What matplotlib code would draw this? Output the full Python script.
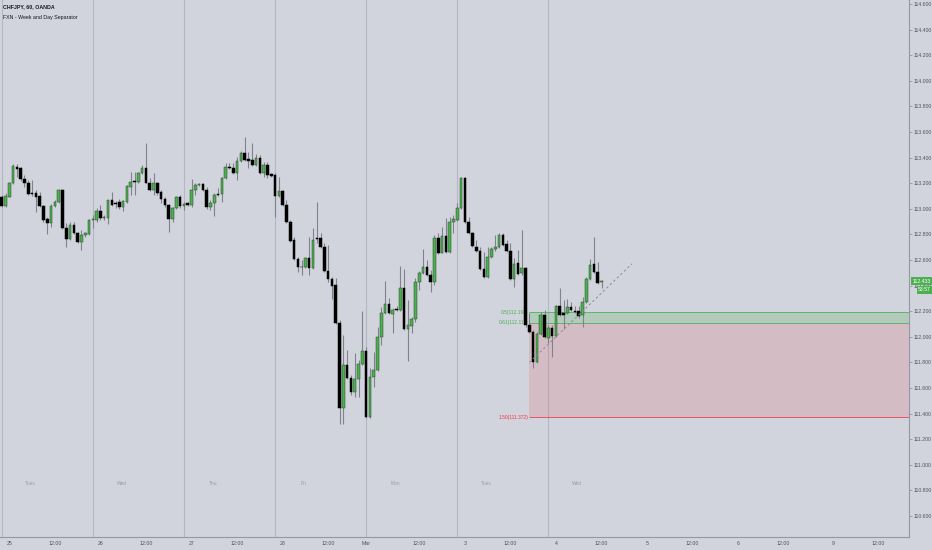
import matplotlib
matplotlib.use("Agg")
import matplotlib.pyplot as plt
import matplotlib.transforms as mtransforms
import numpy as np
import pandas as pd

plt.rcParams["font.family"] = ["Liberation Sans", "DejaVu Sans"]

SYMBOL = "CHFJPY, 60, OANDA"
INDICATOR = "FXN - Week and Day Separator"
FIRST_BAR = "2020-02-24 22:00"

# hourly candles
opens = [
    113.094, 113.024, 113.094, 113.198, 113.329, 113.316, 113.232, 113.204, 113.120, 113.120,
    113.100, 113.024, 112.920, 112.891, 113.021, 113.050, 113.146, 112.847, 112.766, 112.873,
    112.808, 112.743, 112.792, 112.803, 112.909, 112.912, 112.982, 112.925, 112.925, 113.066,
    113.047, 113.050, 113.016, 113.050, 113.172, 113.214, 113.211, 113.277, 113.316, 113.204,
    113.146, 113.204, 113.128, 113.073, 113.026, 112.917, 113.003, 113.089, 113.021, 113.042,
    113.032, 113.146, 113.185, 113.193, 113.146, 113.011, 113.042, 113.115, 113.112, 113.243,
    113.329, 113.321, 113.276, 113.373, 113.433, 113.386, 113.381, 113.342, 113.394, 113.276,
    113.342, 113.269, 113.263, 113.102, 113.141, 113.029, 112.899, 112.756, 112.605, 112.547,
    112.542, 112.612, 112.534, 112.769, 112.769, 112.704, 112.514, 112.449, 112.404, 112.110,
    111.441, 111.779, 111.680, 111.571, 111.670, 111.787, 111.889, 111.371, 111.683, 111.740,
    112.001, 112.188, 112.256, 112.178, 112.217, 112.209, 112.378, 112.061, 112.087, 112.136,
    112.431, 112.501, 112.543, 112.483, 112.431, 112.769, 112.657, 112.787, 112.665, 112.894,
    112.912, 113.004, 113.238, 112.899, 112.808, 112.704, 112.673, 112.527, 112.469, 112.620,
    112.683, 112.699, 112.795, 112.725, 112.673, 112.449, 112.574, 112.495, 112.535, 112.092,
    112.040, 111.805, 112.021, 112.170, 111.988, 112.066, 112.006, 112.240, 112.188, 112.183,
    112.235, 112.204, 112.204, 112.170, 112.274, 112.449, 112.568, 112.509, 112.425,
]
highs = [
    113.107, 113.120, 113.211, 113.349, 113.349, 113.323, 113.264, 113.225, 113.225, 113.146,
    113.133, 113.029, 112.938, 113.034, 113.068, 113.152, 113.152, 112.886, 112.899, 112.899,
    112.821, 112.834, 112.821, 112.917, 112.951, 113.003, 113.029, 112.951, 113.068, 113.133,
    113.060, 113.073, 113.068, 113.185, 113.290, 113.290, 113.290, 113.342, 113.511, 113.238,
    113.282, 113.211, 113.146, 113.094, 113.037, 113.016, 113.099, 113.107, 113.055, 113.055,
    113.230, 113.198, 113.198, 113.204, 113.172, 113.068, 113.120, 113.159, 113.250, 113.360,
    113.355, 113.360, 113.407, 113.454, 113.558, 113.446, 113.516, 113.427, 113.420, 113.368,
    113.368, 113.276, 113.276, 113.250, 113.146, 113.068, 112.912, 112.782, 112.625, 112.597,
    112.625, 112.782, 112.847, 113.055, 112.808, 112.730, 112.717, 112.470, 112.457, 112.131,
    112.014, 111.897, 111.701, 111.871, 111.818, 112.204, 111.923, 111.753, 111.884, 112.079,
    112.235, 112.438, 112.300, 112.222, 112.240, 112.555, 112.529, 112.287, 112.157, 112.462,
    112.516, 112.683, 112.600, 112.522, 112.795, 112.808, 112.860, 112.925, 112.938, 112.951,
    113.043, 113.246, 113.246, 112.938, 112.821, 112.756, 112.704, 112.665, 112.700, 112.704,
    112.795, 112.808, 112.808, 112.756, 112.730, 112.613, 112.678, 112.834, 112.542, 112.183,
    112.053, 112.040, 112.196, 112.209, 112.092, 112.092, 112.248, 112.378, 112.287, 112.292,
    112.274, 112.240, 112.240, 112.313, 112.469, 112.605, 112.777, 112.587, 112.443,
]
lows = [
    113.016, 113.016, 113.089, 113.191, 113.251, 113.219, 113.172, 113.105, 113.100, 112.977,
    113.016, 112.899, 112.800, 112.860, 113.016, 113.042, 112.839, 112.698, 112.756, 112.800,
    112.735, 112.678, 112.782, 112.795, 112.847, 112.899, 112.912, 112.912, 112.878, 113.021,
    113.003, 112.995, 112.985, 113.042, 113.107, 113.107, 113.204, 113.271, 113.198, 113.141,
    113.107, 113.107, 113.042, 113.016, 112.821, 112.899, 112.995, 113.003, 112.990, 113.021,
    113.016, 113.107, 113.178, 113.138, 112.998, 112.990, 112.946, 113.099, 113.055, 113.235,
    113.308, 113.269, 113.224, 113.365, 113.373, 113.316, 113.334, 113.334, 113.269, 113.250,
    113.237, 113.248, 112.938, 113.094, 113.021, 112.891, 112.743, 112.597, 112.508, 112.482,
    112.534, 112.482, 112.526, 112.730, 112.696, 112.506, 112.431, 112.292, 112.102, 111.318,
    111.318, 111.673, 111.545, 111.532, 111.532, 111.779, 111.363, 111.363, 111.610, 111.733,
    111.936, 112.180, 112.175, 112.032, 112.201, 112.201, 112.053, 111.811, 112.032, 112.118,
    112.365, 112.490, 112.475, 112.352, 112.405, 112.649, 112.652, 112.657, 112.657, 112.808,
    112.905, 112.996, 112.892, 112.800, 112.701, 112.665, 112.522, 112.456, 112.462, 112.613,
    112.673, 112.691, 112.709, 112.665, 112.443, 112.391, 112.482, 112.482, 112.079, 112.027,
    111.753, 111.792, 112.014, 111.988, 111.949, 111.844, 112.001, 112.162, 112.058, 112.175,
    112.201, 112.183, 112.144, 112.079, 112.266, 112.443, 112.501, 112.410, 112.378,
]
closes = [
    113.024, 113.100, 113.198, 113.336, 113.310, 113.232, 113.198, 113.113, 113.113, 113.094,
    113.024, 112.912, 112.886, 113.024, 113.050, 113.146, 112.847, 112.766, 112.873, 112.808,
    112.743, 112.795, 112.808, 112.912, 112.917, 112.982, 112.925, 112.933, 113.066, 113.029,
    113.037, 113.016, 113.058, 113.178, 113.209, 113.209, 113.282, 113.316, 113.204, 113.146,
    113.204, 113.120, 113.073, 113.026, 112.917, 113.003, 113.089, 113.021, 113.037, 113.032,
    113.146, 113.185, 113.193, 113.146, 113.011, 113.047, 113.107, 113.107, 113.243, 113.329,
    113.318, 113.276, 113.373, 113.433, 113.381, 113.375, 113.342, 113.394, 113.276, 113.342,
    113.263, 113.256, 113.102, 113.141, 113.029, 112.899, 112.750, 112.605, 112.547, 112.542,
    112.612, 112.534, 112.756, 112.761, 112.704, 112.514, 112.449, 112.397, 112.110, 111.441,
    111.779, 111.680, 111.571, 111.670, 111.787, 111.889, 111.371, 111.683, 111.740, 112.001,
    112.188, 112.253, 112.183, 112.209, 112.209, 112.378, 112.061, 112.092, 112.136, 112.431,
    112.501, 112.548, 112.483, 112.431, 112.769, 112.657, 112.787, 112.665, 112.899, 112.920,
    113.004, 113.238, 112.899, 112.808, 112.709, 112.673, 112.530, 112.469, 112.620, 112.683,
    112.699, 112.795, 112.717, 112.673, 112.449, 112.568, 112.490, 112.535, 112.092, 112.040,
    111.800, 112.021, 112.170, 111.995, 112.066, 112.006, 112.240, 112.170, 112.170, 112.230,
    112.209, 112.196, 112.162, 112.274, 112.449, 112.561, 112.509, 112.417, 112.433,
]

tick_times = [
    "2020-02-25 00:00", "2020-02-25 12:00", "2020-02-26 00:00", "2020-02-26 12:00",
    "2020-02-27 00:00", "2020-02-27 12:00", "2020-02-28 00:00", "2020-02-28 12:00",
    "2020-03-01 22:00", "2020-03-02 12:00", "2020-03-03 00:00", "2020-03-03 12:00",
    "2020-03-04 00:00", "2020-03-04 12:00", "2020-03-05 00:00", "2020-03-05 12:00",
    "2020-03-06 00:00", "2020-03-06 12:00", "2020-03-09 00:00", "2020-03-09 12:00",
]
tick_labels = ["25", "12:00", "26", "12:00", "27", "12:00", "28", "12:00", "Mar", "12:00",
               "3", "12:00", "4", "12:00", "5", "12:00", "6", "12:00", "9", "12:00"]
day_names = ["Tues", "Wed", "Thu", "Fri", "Mon", "Tues", "Wed"]

# fib / position tool
fib_start = "2020-03-03 17:00"
fib_names = ["0.5", "0.61", "1.50"]
fib_prices = [112.192, 112.111, 111.372]

# dashed trend line
trend_times = ["2020-03-03 17:00", "2020-03-04 20:00"]
trend_prices = [111.80, 112.57]

last_price = 112.433
countdown = "53:57"

BG = "#d1d4dc"
UP = "#4caf50"
DOWN = "#000000"
WICK = "#80838c"
RED = "#f23645"
TXT = "#50535e"

# bar index <-> time, forex weekend skipped
times = pd.date_range(FIRST_BAR, "2020-03-10 02:00", freq="h")
closed = ((times >= "2020-02-28 22:00") & (times < "2020-03-01 22:00")) | \
         ((times >= "2020-03-06 22:00") & (times < "2020-03-08 21:00"))
times = times[~closed]
bar_of = {t: i for i, t in enumerate(times)}


def bar(ts):
    return bar_of[pd.Timestamp(ts)]


n = len(closes)
x = np.arange(n)
o = np.array(opens)
c = np.array(closes)
up = c >= o

fig = plt.figure(figsize=(9.32, 5.5), dpi=100, facecolor=BG)
ax = fig.add_axes([0, 13 / 550, 909 / 932, 537 / 550], facecolor=BG)
ax.set_xlim(-0.45, 239.0)
ax.set_ylim(110.436, 114.631)

# day separators (NY 17:00)
sep_bars = [i for i in range(n) if times[i].hour == 22]
for b in sep_bars:
    ax.axvline(b, color="#b4b7c0", lw=0.8, zorder=1)
blend = mtransforms.blended_transform_factory(ax.transData, ax.transAxes)
for b, name in zip(sep_bars, day_names):
    ax.text(b + 7.6, 0.1, name, transform=blend, fontsize=3.5, color="#9a9da6",
            ha="center", va="center")

# fib boxes
s = bar(fib_start)
xe = 260
ax.fill_between([s, xe], fib_prices[1], fib_prices[0], color=UP, alpha=0.22, lw=0, zorder=2)
ax.fill_between([s, xe], fib_prices[2], fib_prices[1], color="#e8414f", alpha=0.16, lw=0,
                zorder=2)
ax.hlines(fib_prices, s, xe, colors=[UP, UP, RED], lw=0.7, alpha=0.8, zorder=2)
for name, p, col in zip(fib_names, fib_prices, [UP, UP, RED]):
    ax.text(s - 0.3, p, f"{name}({p:.3f})", ha="right", va="center", fontsize=3.5,
            color=col, zorder=2.5)

# candles
ax.vlines(x, lows, highs, color=WICK, lw=0.8, zorder=3)
bottoms = np.minimum(o, c)
heights = np.maximum(np.abs(c - o), 0.006)
ax.bar(x, heights, bottom=bottoms, width=0.68, color=np.where(up, UP, DOWN),
       edgecolor=np.where(up, "#2d4a2f", DOWN), linewidth=0.35, zorder=4)

ax.plot([bar(t) for t in trend_times], trend_prices, color="#8a8d95", lw=0.7,
        ls=(0, (2.5, 2.5)), zorder=5)

# axes styling
for side in ["top", "left"]:
    ax.spines[side].set_visible(False)
for side in ["right", "bottom"]:
    ax.spines[side].set_color("#9598a1")
    ax.spines[side].set_linewidth(0.8)

yt = np.arange(110.6, 114.61, 0.2)
ax.yaxis.tick_right()
ax.set_yticks(yt)
ax.set_yticklabels([f"{v:.3f}" for v in yt])
ax.tick_params(axis="y", length=2.2, width=0.6, color="#9598a1", labelsize=3.7,
               labelcolor=TXT, pad=0.8)
ax.set_xticks([bar(t) for t in tick_times])
ax.set_xticklabels(tick_labels)
ax.tick_params(axis="x", length=0, labelsize=3.8, labelcolor=TXT, pad=3)

# last price label
yblend = mtransforms.blended_transform_factory(ax.transAxes, ax.transData)
ax.text(1.0 + 22.0 / 909, last_price, f"{last_price:.3f}", transform=yblend, ha="right",
        va="center", fontsize=3.7, color="white", clip_on=False, zorder=10,
        bbox=dict(boxstyle="square,pad=0.3", fc=UP, ec="none"))
ax.annotate(countdown, xy=(1.0 + 22.0 / 909, last_price), xycoords=yblend,
            xytext=(0, -6.2), textcoords="offset points", ha="right", va="center",
            fontsize=3.7, color="white", annotation_clip=False, zorder=10,
            bbox=dict(boxstyle="square,pad=0.3", fc=UP, ec="none"))

fig.text(3 / 932, 1 - 7 / 550, SYMBOL, fontsize=3.8, fontweight="bold", color="#131722",
         va="center")
fig.text(3 / 932, 1 - 18 / 550, INDICATOR, fontsize=3.8, color="#131722", va="center")

fig.savefig("out.png", dpi=100, facecolor=BG)
